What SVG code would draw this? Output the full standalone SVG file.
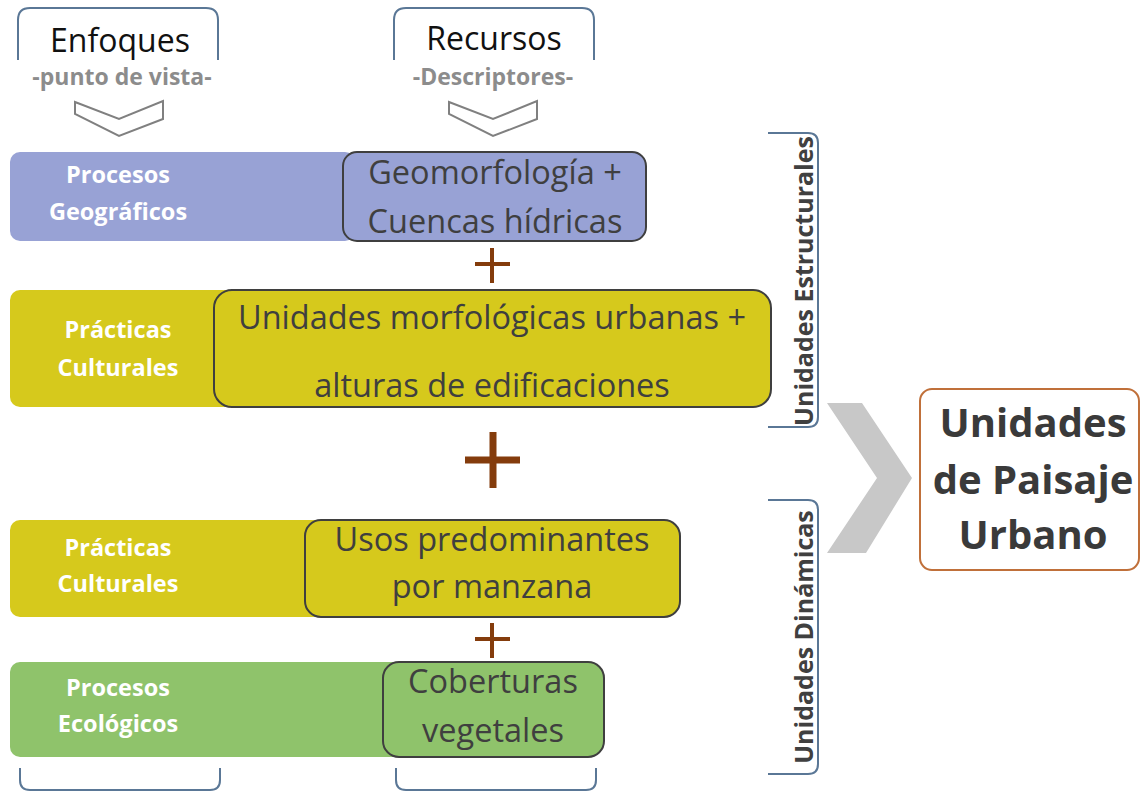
<svg xmlns="http://www.w3.org/2000/svg" width="1141" height="793" viewBox="0 0 1141 793">
<style>
.hdr{font-family:"Open Sans","Liberation Sans",sans-serif;font-size:32px;fill:#111;text-anchor:middle}
.sub{font-family:"Open Sans","Liberation Sans",sans-serif;font-size:23px;font-weight:bold;fill:#8c8c8c;text-anchor:middle}
.lbl{font-family:"Open Sans","Liberation Sans",sans-serif;font-size:23.5px;font-weight:bold;fill:#fff;text-anchor:middle}
.box{font-family:"Open Sans","Liberation Sans",sans-serif;font-size:32.5px;fill:#3f3f3f;text-anchor:middle}
.vt{font-family:"Open Sans","Liberation Sans",sans-serif;font-size:25px;font-weight:bold;fill:#404040;text-anchor:middle}
.fin{font-family:"Open Sans","Liberation Sans",sans-serif;font-size:40px;font-weight:bold;fill:#3a3a3a;text-anchor:middle}
.brk{fill:none;stroke:#5a7796;stroke-width:2}
.chev{fill:#fff;stroke:#808080;stroke-width:2}
.bx{stroke:#3f3f3f;stroke-width:2}
.plus{stroke:#843c0c;fill:none}
.blue{fill:#98a2d5}
.yel{fill:#d6c91c}
.grn{fill:#8fc36b}
</style>
<g id="header-enfoques">
<path class="brk" d="M18,60 V20 Q18,8 30,8 H206 Q218,8 218,20 V60"/>
<text class="hdr" x="120" y="52">Enfoques</text>
<text class="sub" x="122" y="85">-punto de vista-</text>
<path class="chev" d="M75,102 L119,119 L163,101 L163,119 L119,136 L75,114 Z"/>
</g>
<g id="header-recursos">
<path class="brk" d="M394,60 V20 Q394,8 406,8 H582 Q594,8 594,20 V60"/>
<text class="hdr" x="494" y="50">Recursos</text>
<text class="sub" x="493" y="85">-Descriptores-</text>
<path class="chev" d="M449,102 L493,119 L537,101 L537,119 L493,136 L449,114 Z"/>
</g>
<g id="row-geograficos">
<rect class="blue" x="10" y="152" width="345" height="89" rx="10"/>
<rect class="blue bx" x="343" y="152" width="303" height="89" rx="14"/>
<text class="lbl" x="118" y="183">Procesos</text>
<text class="lbl" x="118" y="220">Geográficos</text>
<text class="box" x="495" y="184">Geomorfología +</text>
<text class="box" x="495" y="233">Cuencas hídricas</text>
</g>
<g id="row-morfologicas">
<rect class="yel" x="10" y="290" width="225" height="117" rx="10"/>
<rect class="yel bx" x="214" y="290" width="557" height="117" rx="18"/>
<text class="lbl" x="118" y="338">Prácticas</text>
<text class="lbl" x="118" y="376">Culturales</text>
<text class="box" x="492" y="329">Unidades morfológicas urbanas +</text>
<text class="box" x="492" y="397">alturas de edificaciones</text>
</g>
<g id="row-usos">
<rect class="yel" x="10" y="520" width="315" height="97" rx="10"/>
<rect class="yel bx" x="305" y="520" width="375" height="97" rx="16"/>
<text class="lbl" x="118" y="556">Prácticas</text>
<text class="lbl" x="118" y="592">Culturales</text>
<text class="box" x="492" y="551">Usos predominantes</text>
<text class="box" x="492" y="598">por manzana</text>
</g>
<g id="row-coberturas">
<rect class="grn" x="10" y="662" width="395" height="95" rx="10"/>
<rect class="grn bx" x="383" y="662" width="221" height="95" rx="16"/>
<text class="lbl" x="118" y="696">Procesos</text>
<text class="lbl" x="118" y="732">Ecológicos</text>
<text class="box" x="493" y="693">Coberturas</text>
<text class="box" x="493" y="742">vegetales</text>
</g>
<g id="bottom-brackets">
<path class="brk" d="M20,768 V780 Q20,790 30,790 H210 Q220,790 220,780 V768"/>
<path class="brk" d="M396,768 V780 Q396,790 406,790 H586 Q596,790 596,780 V768"/>
</g>
<g id="unidades-estructurales">
<path class="brk" d="M768,133 H808 Q818,133 818,143 V417 Q818,427 808,427 H768"/>
<text class="vt" transform="translate(813,281) rotate(-90)">Unidades Estructurales</text>
</g>
<g id="unidades-dinamicas">
<path class="brk" d="M768,500 H808 Q818,500 818,510 V764 Q818,774 808,774 H768"/>
<text class="vt" transform="translate(813,637) rotate(-90)">Unidades Dinámicas</text>
</g>
<g id="resultado">
<rect x="920" y="389" width="219" height="181" rx="12" fill="#fff" stroke="#c0703a" stroke-width="2"/>
<text class="fin" x="1033" y="437">Unidades</text>
<text class="fin" x="1033" y="494">de Paisaje</text>
<text class="fin" x="1033" y="549">Urbano</text>
</g>
<g id="connectors">
<path class="plus" stroke-width="4" d="M475,264 H510 M492,248 V283"/>
<path class="plus" stroke-width="7" d="M465,460 H520 M493,432 V488"/>
<path class="plus" stroke-width="4" d="M475,639 H510 M492,623 V658"/>
<polygon points="827,403 862,403 912,478 866,553 827,553 877,478" fill="#c8c8c8"/>
</g>
</svg>
